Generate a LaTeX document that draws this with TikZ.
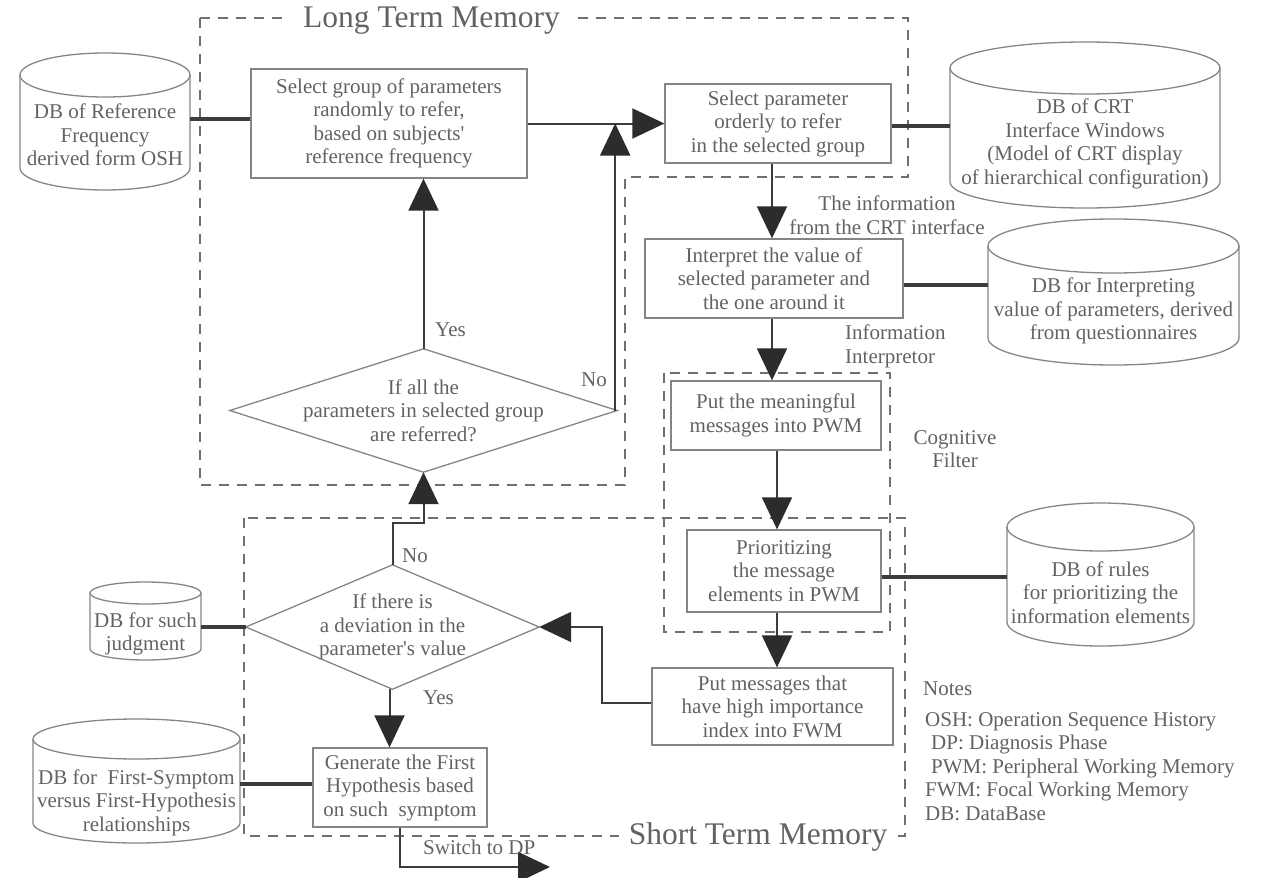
\documentclass[tikz,border=0pt]{standalone}
\usepackage{fontspec}
\setmainfont{Liberation Serif}
\usetikzlibrary{arrows.meta}
\definecolor{inkgray}{HTML}{626262}
\definecolor{framegray}{HTML}{858585}
\definecolor{wiregray}{HTML}{3C3C3C}
\definecolor{dashgray}{HTML}{707070}
\definecolor{headgray}{HTML}{2C2C2C}

% database drum: centre x, half width, top-ellipse y, bottom-ellipse y, ellipse half height
\newcommand\dbdrum[5]{%
  \draw[drum] ({#1-#2},#3) -- ({#1-#2},#4)
     arc[start angle=180,end angle=360,x radius=#2pt,y radius=#5pt]
     -- ({#1+#2},#3);
  \draw[drum] (#1,#3) ellipse[x radius=#2pt,y radius=#5pt];}

\begin{document}
\begin{tikzpicture}[x=1pt,y=-1pt,
  every node/.style={font=\fontsize{21pt}{23.5pt}\selectfont,text=inkgray},
  stepbox/.style={draw=framegray,line width=1.3pt,align=center,inner sep=0pt},
  drum/.style={draw=framegray,line width=1.3pt},
  drumtext/.style={align=center,inner sep=0pt},
  choice/.style={align=center,inner sep=0pt},
  choiceframe/.style={draw=framegray,line width=1.3pt},
  region/.style={draw=dashgray,line width=1.8pt,dash pattern=on 10pt off 8pt},
  regiontitle/.style={font=\fontsize{31.5pt}{34pt}\selectfont,fill=white,inner ysep=2pt},
  flow/.style={draw=wiregray,line width=2pt,-{Triangle[length=32pt,width=30pt,color=headgray]}},
  link/.style={draw=wiregray,line width=4pt},
  tag/.style={inner sep=0pt,align=left},
]
\useasboundingbox (0,0) rectangle (1270,878);

% memory regions
\draw[region] (200,18) -- (908,18) -- (908,177) -- (625,177) -- (625,485) -- (200,485) -- cycle;
\draw[region] (244,518) rectangle (905,836);
\draw[region] (664,373) rectangle (890,632);
\node[regiontitle,inner xsep=16pt] (ltm) at (431.5,21) {Long Term Memory};
\node[regiontitle,inner xsep=10pt] (stm) at (758,837) {Short Term Memory};

% process steps
\node[stepbox,minimum width=276pt,minimum height=109pt] (pick) at (389,123.5)
  {Select group of parameters\\randomly to refer,\\based on subjects\textquotesingle\\reference frequency};
\node[stepbox,minimum width=226pt,minimum height=79pt] (order) at (778,123.5)
  {Select parameter\\orderly to refer\\in the selected group};
\node[stepbox,minimum width=258pt,minimum height=79pt] (interp) at (774,278.5)
  {Interpret the value of\\selected parameter and\\the one around it};
\node[stepbox,minimum width=210pt,minimum height=69pt] (pwm) at (776,415.5)
  {Put the meaningful\\messages into PWM};
\node[stepbox,minimum width=194pt,minimum height=82pt] (prio) at (784,571)
  {Prioritizing\\the message\\elements in PWM};
\node[stepbox,minimum width=241pt,minimum height=77pt] (fwm) at (772.5,706.5)
  {Put messages that\\have high importance\\index into FWM};
\node[stepbox,minimum width=174pt,minimum height=79pt] (hyp) at (400,787.5)
  {Generate the First\\Hypothesis based\\on such\ \ symptom};

% decisions
\node[choice,minimum width=387pt,minimum height=123pt] (allref) at (423.5,410.5)
  {If all the\\parameters in selected group\\are referred?};
\draw[choiceframe] (allref.west) -- (allref.north) -- (allref.east) -- (allref.south) -- cycle;
\node[choice,minimum width=293pt,minimum height=124pt] (dev) at (392.5,627)
  {If there is\\a deviation in the\\parameter\textquotesingle s value};
\draw[choiceframe] (dev.west) -- (dev.north) -- (dev.east) -- (dev.south) -- cycle;

% databases
\dbdrum{105}{85}{75}{168}{22}
\node[drumtext,minimum width=170pt] (dbfreq) at (105,135)
  {DB of Reference\\Frequency\\derived form OSH};
\dbdrum{1085}{135}{68}{182}{26}
\node[drumtext,minimum width=270pt] (dbcrt) at (1085,144)
  {DB of CRT\\Interface Windows\\(Model of CRT display\\of hierarchical configuration)};
\dbdrum{1113.5}{125.5}{246}{338}{27}
\node[drumtext,minimum width=251pt] (dbval) at (1113.5,311)
  {DB for Interpreting\\value of parameters, derived\\from questionnaires};
\dbdrum{1100.5}{93.5}{527}{622}{24}
\node[drumtext,minimum width=187pt] (dbrules) at (1100.5,592.5)
  {DB of rules\\for prioritizing the\\information elements};
\dbdrum{145.5}{55.5}{593}{649}{11}
\node[drumtext,minimum width=111pt] (dbjudge) at (145.5,634)
  {DB for such\\judgment};
\dbdrum{136.5}{103.5}{739}{823}{20}
\node[drumtext,minimum width=207pt] (dbsym) at (136.5,802.5)
  {DB for\ \ First-Symptom\\versus First-Hypothesis\\relationships};

% database links
\draw[link] ([yshift=4.5pt]pick.west) -- ([yshift=4.5pt]pick.west -| dbfreq.east);
\draw[link] ([yshift=-2.5pt]order.east) -- ([yshift=-2.5pt]order.east -| dbcrt.west);
\draw[link] ([yshift=-6.5pt]interp.east) -- ([yshift=-6.5pt]interp.east -| dbval.west);
\draw[link] ([yshift=-6pt]prio.east) -- ([yshift=-6pt]prio.east -| dbrules.west);
\draw[link] (dev.west) -- (dev.west -| dbjudge.east);
\draw[link] ([yshift=3.5pt]hyp.west) -- ([yshift=3.5pt]hyp.west -| dbsym.east);

% flow
\draw[flow] (pick.east) -- (order.west);
\draw[flow] (allref.north) -- (allref.north |- pick.south);
\draw[flow] ([xshift=-2pt]allref.east) -- ([xshift=-2pt]allref.east |- pick.east);
\draw[flow] ([xshift=-6pt]order.south) -- ([xshift=-6pt]order.south |- interp.north);
\draw[flow] ([xshift=-2pt]interp.south) -- ([xshift=-2pt]interp.south |- pwm.north);
\draw[flow] ([xshift=1pt]pwm.south) -- ([xshift=1pt]pwm.south |- prio.north);
\draw[flow] ([xshift=-7pt]prio.south) -- ([xshift=-7pt]prio.south |- fwm.north);
\draw[flow] ([yshift=3.5pt]fwm.west) -- ++(-49,0) |- (dev.east);
\draw[flow] (dev.north) -- ++(0,-42) -| (allref.south);
\draw[flow] ([xshift=-3pt]dev.south) -- ([xshift=-3pt]dev.south |- hyp.north);
\coordinate (dp) at (550,867);
\draw[flow] (hyp.south) |- (dp);

% branch labels
\node[tag,anchor=west] (yes1) at (435,330) {Yes};
\node[tag,anchor=west] (no1) at (581,380) {No};
\node[tag,anchor=west] (no2) at (402,556) {No};
\node[tag,anchor=west] (yes2) at (423,698) {Yes};
\node[tag,anchor=west] (sw) at (423,847) {Switch to DP};
\node[tag,align=center] (crtinfo) at (887,215) {The information\\from the CRT interface};
\node[tag,anchor=west] (infoint) at (845,346.5) {Information\\Interpretor};
\node[tag,align=center] (cogf) at (955,449) {Cognitive\\Filter};

% notes
\node[tag,anchor=west] (notes) at (923,689) {Notes};
\node[tag,anchor=west] (legend) at (925,766.5)
  {OSH: Operation Sequence History\\
   \hspace*{6pt}DP: Diagnosis Phase\\
   \hspace*{6pt}PWM: Peripheral Working Memory\\
   FWM: Focal Working Memory\\
   DB: DataBase};
\end{tikzpicture}
\end{document}
